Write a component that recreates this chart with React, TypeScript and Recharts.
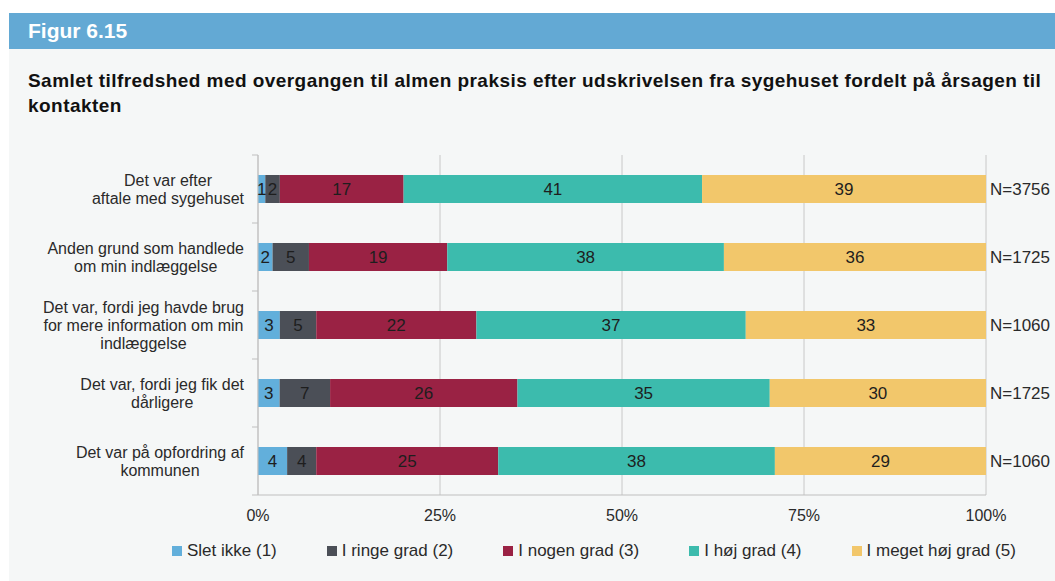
import React from "react";
import { BarChart, Bar, XAxis, YAxis, CartesianGrid, LabelList } from "recharts";

const categoryLines: string[][] = [
  ["Det var efter", "aftale med sygehuset"],
  ["Anden grund som handlede", "om min indlæggelse"],
  ["Det var, fordi jeg havde brug", "for mere information om min", "indlæggelse"],
  ["Det var, fordi jeg fik det", "dårligere"],
  ["Det var på opfordring af", "kommunen"],
];
const sletIkke = [1, 2, 3, 3, 4];
const iRingeGrad = [2, 5, 5, 7, 4];
const iNogenGrad = [17, 19, 22, 26, 25];
const iHojGrad = [41, 38, 37, 35, 38];
const iMegetHojGrad = [39, 36, 33, 30, 29];
const nLabels = ["N=3756", "N=1725", "N=1060", "N=1725", "N=1060"];
const xTicks = [0, 0.25, 0.5, 0.75, 1];

const seriesNames = ["Slet ikke (1)", "I ringe grad (2)", "I nogen grad (3)", "I høj grad (4)", "I meget høj grad (5)"];
const seriesKeys = ["s1", "s2", "s3", "s4", "s5"];
const seriesColors = ["#62afdb", "#4b4f57", "#9a2244", "#3cbbad", "#f2c76b"];
const seriesValues = [sletIkke, iRingeGrad, iNogenGrad, iHojGrad, iMegetHojGrad];

const data = categoryLines.map((lines, i) => {
  const row: any = { cat: String(i), lines, n: nLabels[i] };
  seriesKeys.forEach((k, j) => (row[k] = seriesValues[j][i]));
  return row;
});

const FONT = "'Liberation Sans', Arial, Helvetica, sans-serif";
const CHART_W = 1047;
const CHART_H = 520;
const MARGIN = { top: 147, right: 69, left: 0, bottom: 3 };
const XAXIS_H = 30;
const PLOT_H = CHART_H - MARGIN.top - MARGIN.bottom - XAXIS_H;
const BAND = PLOT_H / categoryLines.length;
const Y_FONT = 16;
const Y_LINE = 18;

let measureCanvas: HTMLCanvasElement | null = null;
function textWidth(t: string, font: string) {
  if (!measureCanvas) measureCanvas = document.createElement("canvas");
  const ctx = measureCanvas.getContext("2d")!;
  ctx.font = font;
  return ctx.measureText(t).width;
}

const YTick = (props: any) => {
  const { x, y, payload, index } = props;
  const lines: string[] = categoryLines[Number(payload.value)] || [];
  const font = `${Y_FONT}px ${FONT}`;
  const maxW = Math.max(...lines.map((l) => textWidth(l, font)));
  const right = x - 14;
  const cx = right - maxW / 2;
  const startY = y - ((lines.length - 1) * Y_LINE) / 2;
  return (
    <g>
      <line x1={x - 6} x2={x} y1={y - BAND / 2} y2={y - BAND / 2} stroke="#bfbfbf" />
      {index === categoryLines.length - 1 && (
        <line x1={x - 6} x2={x} y1={y + BAND / 2} y2={y + BAND / 2} stroke="#bfbfbf" />
      )}
      {lines.map((l, i) => (
        <text
          key={i}
          x={cx}
          y={startY + i * Y_LINE}
          textAnchor="middle"
          dominantBaseline="central"
          fontSize={Y_FONT}
          fontFamily={FONT}
          fill="#2a2a2a"
        >
          {l}
        </text>
      ))}
    </g>
  );
};

const NLabel = (props: any) => {
  const { x, y, width, height, value } = props;
  return (
    <text
      x={x + width + 4}
      y={y + height / 2}
      dominantBaseline="central"
      fontSize={17}
      fontFamily={FONT}
      fill="#2a2a2a"
    >
      {value}
    </text>
  );
};

export default function App() {
  return (
    <div style={{ position: "fixed", left: 0, top: 0, width: 1055, height: 581, fontFamily: FONT, overflow: "hidden" }}>
      <div
        style={{
          position: "absolute",
          left: 9,
          top: 13,
          width: 1046,
          height: 568,
          background: "#f5f7f7",
        }}
      >
        <div
          style={{
            height: 36,
            lineHeight: "36px",
            background: "#63a9d4",
            color: "#ffffff",
            fontWeight: "bold",
            fontSize: 21,
            paddingLeft: 19,
          }}
        >
          Figur 6.15
        </div>
        <div
          style={{
            position: "absolute",
            left: 19,
            top: 55,
            fontSize: 19,
            letterSpacing: 0.45,
            lineHeight: "25px",
            fontWeight: "bold",
            color: "#111",
            whiteSpace: "nowrap",
          }}
        >
          Samlet tilfredshed med overgangen til almen praksis efter udskrivelsen fra sygehuset fordelt på årsagen til
          <br />
          kontakten
        </div>
      </div>
      <div style={{ position: "absolute", left: 8, top: 8 }}>
        <BarChart
          width={CHART_W}
          height={CHART_H}
          data={data}
          layout="vertical"
          stackOffset="expand"
          margin={MARGIN}
          barSize={28}
        >
          <CartesianGrid horizontal={false} stroke="#c8c8c8" />
          <XAxis
            type="number"
            domain={[0, 1]}
            ticks={xTicks}
            tickFormatter={(v: number) => `${Math.round(v * 100)}%`}
            height={XAXIS_H}
            axisLine={{ stroke: "#bfbfbf" }}
            tickLine={false}
            tickSize={0}
            tickMargin={15}
            tick={{ fontSize: 16, fill: "#2a2a2a", fontFamily: FONT }}
          />
          <YAxis
            type="category"
            dataKey="cat"
            width={250}
            axisLine={{ stroke: "#bfbfbf" }}
            tickLine={false}
            tickSize={0}
            tickMargin={0}
            tick={<YTick />}
            interval={0}
          />
          {seriesKeys.map((k, j) => (
            <Bar key={k} dataKey={k} stackId="a" fill={seriesColors[j]} isAnimationActive={false} name={seriesNames[j]}>
              <LabelList dataKey={k} position="center" fill="#1e1e1e" fontSize={17} fontFamily={FONT} />
              {j === seriesKeys.length - 1 && <LabelList dataKey="n" content={<NLabel />} />}
            </Bar>
          ))}
        </BarChart>
      </div>
      <div
        style={{
          position: "absolute",
          left: 172,
          top: 541,
          display: "flex",
          alignItems: "center",
          fontSize: 17,
          color: "#2a2a2a",
          whiteSpace: "nowrap",
        }}
      >
        {seriesNames.map((name, j) => (
          <div key={name} style={{ display: "flex", alignItems: "center", marginRight: 50 }}>
            <span
              style={{ display: "inline-block", width: 10, height: 10, background: seriesColors[j], marginRight: 5 }}
            />
            <span>{name}</span>
          </div>
        ))}
      </div>
    </div>
  );
}
